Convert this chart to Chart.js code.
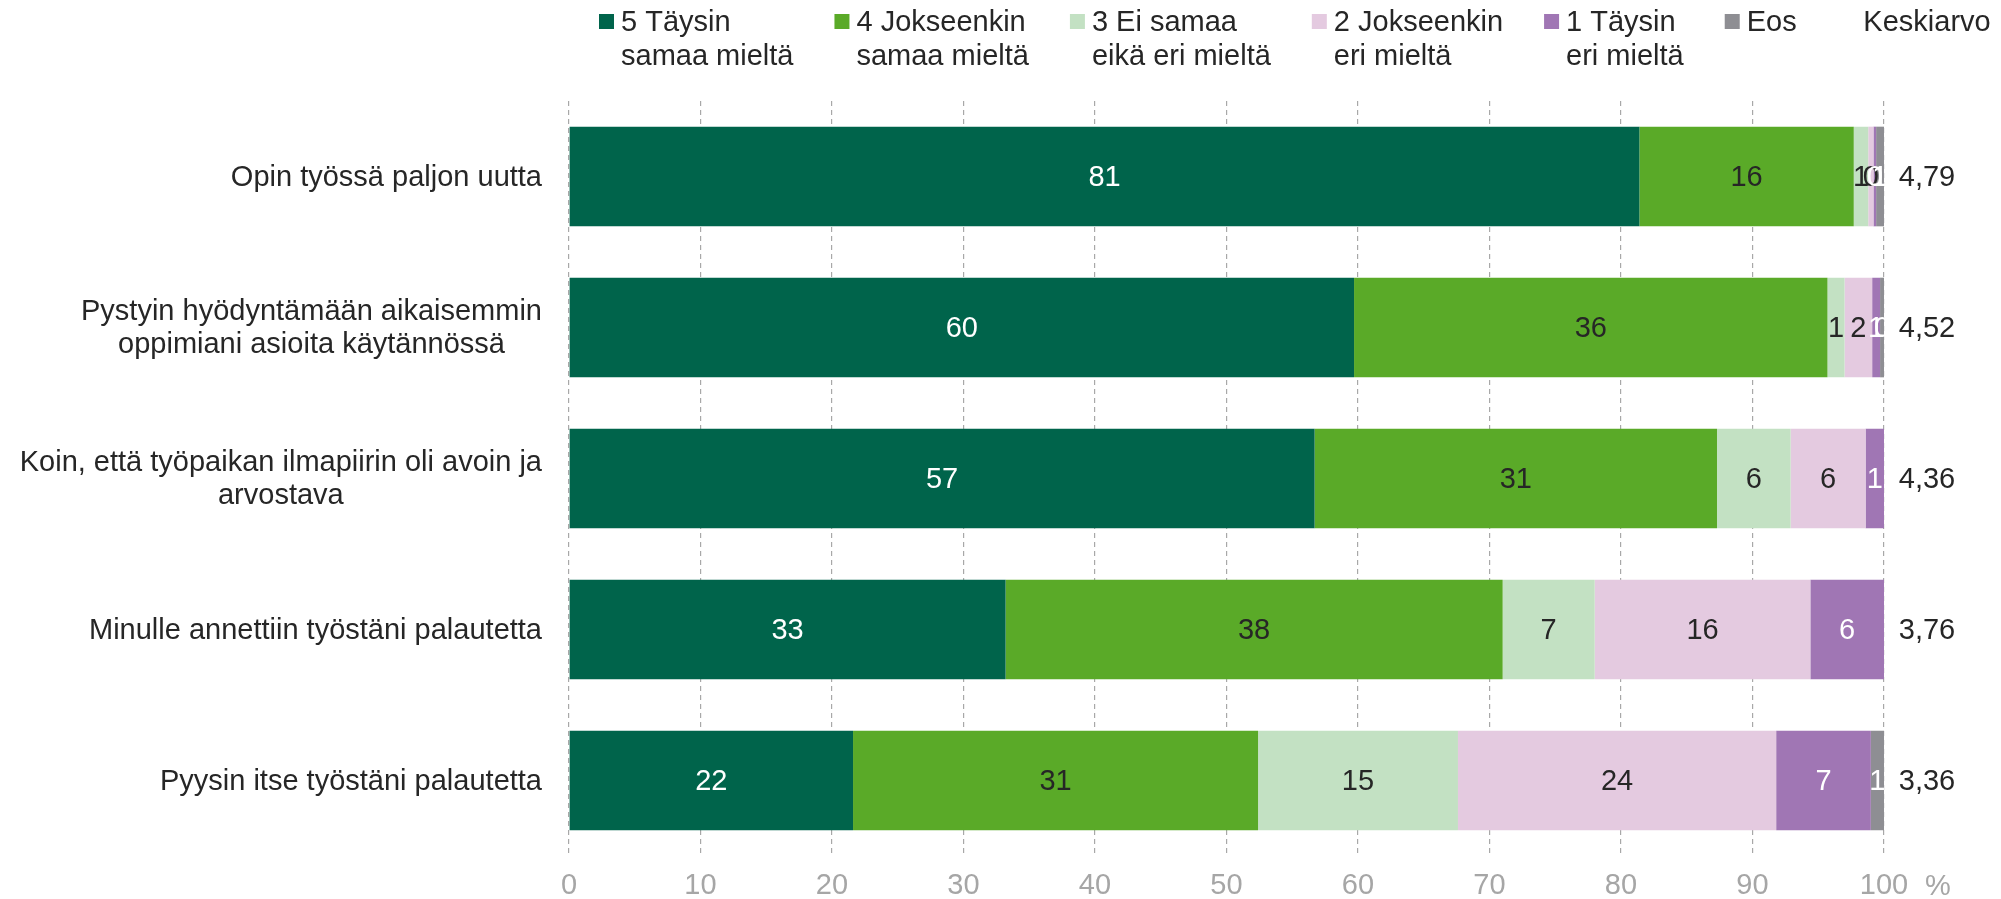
<!DOCTYPE html>
<html>
<head>
<meta charset="utf-8">
<script src="https://cdn.jsdelivr.net/npm/chart.js@4/dist/chart.umd.min.js"></script>
<style>
  html, body { margin: 0; padding: 0; background: #fff; }
  #wrap { width: 2001px; height: 899px; position: relative; }
</style>
</head>
<body>
<div id="wrap"><canvas id="barChart"></canvas></div>
<script>
// categories (multi-line labels)
const categories = [
  ['Opin työssä paljon uutta'],
  ['Pystyin hyödyntämään aikaisemmin', 'oppimiani asioita käytännössä'],
  ['Koin, että työpaikan ilmapiirin oli avoin ja', 'arvostava'],
  ['Minulle annettiin työstäni palautetta'],
  ['Pyysin itse työstäni palautetta']
];

// series values, % of answers
const taysinSamaa = [81.4, 59.7, 56.7, 33.2, 21.6];
const jokseenkinSamaa = [16.3, 36.0, 30.6, 37.8, 30.8];
const eiSamaaEikaEri = [1.1, 1.3, 5.6, 7.0, 15.2];
const jokseenkinEri = [0.4, 2.1, 5.7, 16.4, 24.2];
const taysinEri = [0.2, 0.6, 1.4, 5.6, 7.2];
const eos = [0.6, 0.3, 0.0, 0.0, 1.0];

// mean column
const keskiarvo = ['4,79', '4,52', '4,36', '3,76', '3,36'];

// legend texts
const legendLabels = [
  ['5 Täysin', 'samaa mieltä'],
  ['4 Jokseenkin', 'samaa mieltä'],
  ['3 Ei samaa', 'eikä eri mieltä'],
  ['2 Jokseenkin', 'eri mieltä'],
  ['1 Täysin', 'eri mieltä'],
  ['Eos']
];

const xTicks = [0, 10, 20, 30, 40, 50, 60, 70, 80, 90, 100];

const FONT = '"Liberation Sans", Arial, sans-serif';
const TEXT = '#262626';
const colors = ['#00644b', '#5aaa28', '#c3e1c3', '#e4cae0', '#a076b4', '#8e8e93'];
const labelColors = ['#ffffff', TEXT, TEXT, TEXT, '#ffffff', '#ffffff'];
const series = [taysinSamaa, jokseenkinSamaa, eiSamaaEikaEri, jokseenkinEri, taysinEri, eos];

// draws numbers inside bars, mean values, category labels and the legend
const extrasPlugin = {
  id: 'extras',
  afterDatasetsDraw(chart) {
    const ctx = chart.ctx;
    ctx.save();
    ctx.font = '29px ' + FONT;
    ctx.textAlign = 'center';
    ctx.textBaseline = 'middle';
    chart.data.datasets.forEach((ds, di) => {
      const meta = chart.getDatasetMeta(di);
      meta.data.forEach((bar, i) => {
        const v = ds.data[i];
        if (!v) return;
        ctx.fillStyle = labelColors[di];
        ctx.fillText(String(Math.round(v)), (bar.x + bar.base) / 2, bar.y + 1);
      });
    });
    ctx.restore();
  },
  afterDraw(chart) {
    const ctx = chart.ctx;
    const area = chart.chartArea;
    const yScale = chart.scales.y;
    const xScale = chart.scales.x;
    ctx.save();
    ctx.font = '29px ' + FONT;
    ctx.textBaseline = 'middle';
    ctx.fillStyle = TEXT;

    // category labels: block right aligned, lines centered
    categories.forEach((lines, i) => {
      const y = yScale.getPixelForValue(i);
      const w = Math.max(...lines.map(l => ctx.measureText(l).width));
      const cx = area.left - 27 - w / 2;
      const lh = 33;
      const y0 = y - (lines.length - 1) * lh / 2;
      ctx.textAlign = 'center';
      lines.forEach((l, j) => ctx.fillText(l, cx, y0 + j * lh + 1));
    });

    // mean values
    ctx.textAlign = 'center';
    keskiarvo.forEach((m, i) => {
      ctx.fillText(m, area.right + 43, yScale.getPixelForValue(i) + 1);
    });

    // legend
    let x = 599;
    legendLabels.forEach((lines, i) => {
      ctx.fillStyle = colors[i];
      ctx.fillRect(x, 14, 15, 15);
      ctx.fillStyle = TEXT;
      ctx.textAlign = 'left';
      lines.forEach((l, j) => ctx.fillText(l, x + 22, 23 + j * 34));
      const w = Math.max(...lines.map(l => ctx.measureText(l).width));
      x += 22 + w + 41;
    });
    ctx.textAlign = 'center';
    ctx.fillText('Keskiarvo', area.right + 43, 23);

    // percent sign after the axis
    ctx.fillStyle = '#a6a6a6';
    ctx.fillText('%', area.right + 54, xScale.top + 31);
    ctx.restore();
  }
};

const chartCtx = document.getElementById('barChart').getContext('2d');
new Chart(chartCtx, {
  type: 'bar',
  data: {
    labels: categories,
    datasets: series.map((d, i) => ({
      label: legendLabels[i].join(' '),
      data: d,
      backgroundColor: colors[i],
      borderWidth: 0,
      barPercentage: 0.66,
      categoryPercentage: 1.0
    }))
  },
  options: {
    indexAxis: 'y',
    responsive: true,
    maintainAspectRatio: false,
    animation: false,
    devicePixelRatio: 1,
    layout: { padding: { top: 101, right: 117, left: 0, bottom: 0 } },
    plugins: {
      legend: { display: false },
      tooltip: { enabled: false }
    },
    scales: {
      x: {
        stacked: true,
        min: 0,
        max: 100,
        afterBuildTicks: (s) => { s.ticks = xTicks.map(v => ({ value: v })); },
        afterFit: (s) => { s.height = 43; },
        ticks: {
          color: '#a6a6a6',
          font: { size: 29, family: FONT },
          padding: 13,
          maxRotation: 0
        },
        grid: {
          color: '#a8a8a8',
          lineWidth: 1.2,
          drawTicks: false
        },
        border: { display: false, dash: [5, 4] }
      },
      y: {
        stacked: true,
        afterFit: (s) => { s.width = 569; },
        ticks: { display: false },
        grid: { display: false },
        border: { display: false }
      }
    }
  },
  plugins: [extrasPlugin]
});
</script>
</body>
</html>
